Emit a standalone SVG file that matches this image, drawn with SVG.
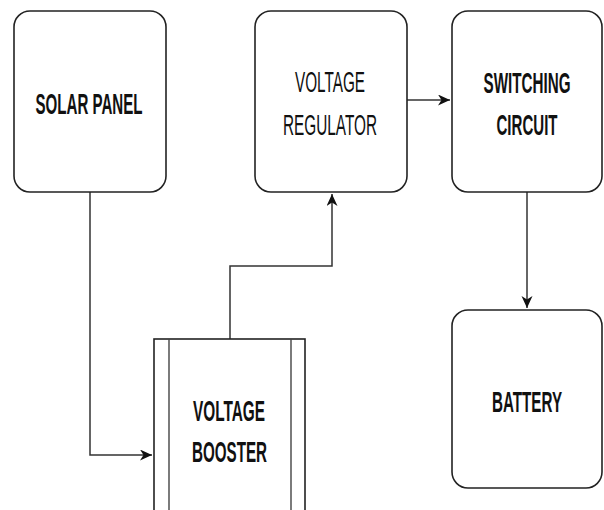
<svg xmlns="http://www.w3.org/2000/svg" width="604" height="510" viewBox="0 0 604 510">
<defs>
<style>
.box{fill:#fff;stroke:#222;stroke-width:1.6}
.bar{fill:none;stroke:#444;stroke-width:1.4}
.lbl{font-family:"Liberation Sans",Arial,sans-serif;font-size:30px;fill:#111;text-anchor:middle}
.b{font-weight:bold}
.edge{fill:none;stroke:#333;stroke-width:1.5}
</style>
<marker id="arr" markerWidth="14" markerHeight="12" refX="12" refY="5.5" orient="auto" markerUnits="userSpaceOnUse">
<path d="M0,0 L12,5.5 L0,11 L3.5,5.5 Z" fill="#111"/>
</marker>
</defs>
<rect width="604" height="510" fill="#fff"/>
<g id="connectors">
<path class="edge" d="M90,192 V455 H152" marker-end="url(#arr)"/>
<path class="edge" d="M230,339 V266 H332 V194" marker-end="url(#arr)"/>
<path class="edge" d="M407,100 H450" marker-end="url(#arr)"/>
<path class="edge" d="M527,192 V308" marker-end="url(#arr)"/>
</g>
<g id="solar-panel">
<rect class="box" x="14" y="11" width="152" height="181" rx="16" ry="16"/>
<text class="lbl b" transform="translate(89,114) scale(0.55,1)" x="0" y="0" textLength="194.5" lengthAdjust="spacingAndGlyphs">SOLAR PANEL</text>
</g>
<g id="voltage-regulator">
<rect class="box" x="255" y="11" width="152" height="181" rx="16" ry="16"/>
<text class="lbl" transform="translate(330,92) scale(0.55,1)" x="0" y="0" textLength="127.3" lengthAdjust="spacingAndGlyphs">VOLTAGE</text>
<text class="lbl" transform="translate(330,135) scale(0.55,1)" x="0" y="0" textLength="170.9" lengthAdjust="spacingAndGlyphs">REGULATOR</text>
</g>
<g id="switching-circuit">
<rect class="box" x="452" y="11" width="150" height="181" rx="16" ry="16"/>
<text class="lbl b" transform="translate(527,93) scale(0.55,1)" x="0" y="0" textLength="158.2" lengthAdjust="spacingAndGlyphs">SWITCHING</text>
<text class="lbl b" transform="translate(527,135) scale(0.55,1)" x="0" y="0" textLength="110.9" lengthAdjust="spacingAndGlyphs">CIRCUIT</text>
</g>
<g id="voltage-booster">
<rect class="box" x="154" y="339" width="151" height="190"/>
<line class="bar" x1="169" y1="339" x2="169" y2="520"/>
<line class="bar" x1="291" y1="339" x2="291" y2="520"/>
<text class="lbl b" transform="translate(229,421) scale(0.55,1)" x="0" y="0" textLength="130.9" lengthAdjust="spacingAndGlyphs">VOLTAGE</text>
<text class="lbl b" transform="translate(229.5,462) scale(0.55,1)" x="0" y="0" textLength="136.4" lengthAdjust="spacingAndGlyphs">BOOSTER</text>
</g>
<g id="battery">
<rect class="box" x="452" y="310" width="150" height="178" rx="16" ry="16"/>
<text class="lbl b" transform="translate(527,412) scale(0.55,1)" x="0" y="0" textLength="127.3" lengthAdjust="spacingAndGlyphs">BATTERY</text>
</g>
</svg>
